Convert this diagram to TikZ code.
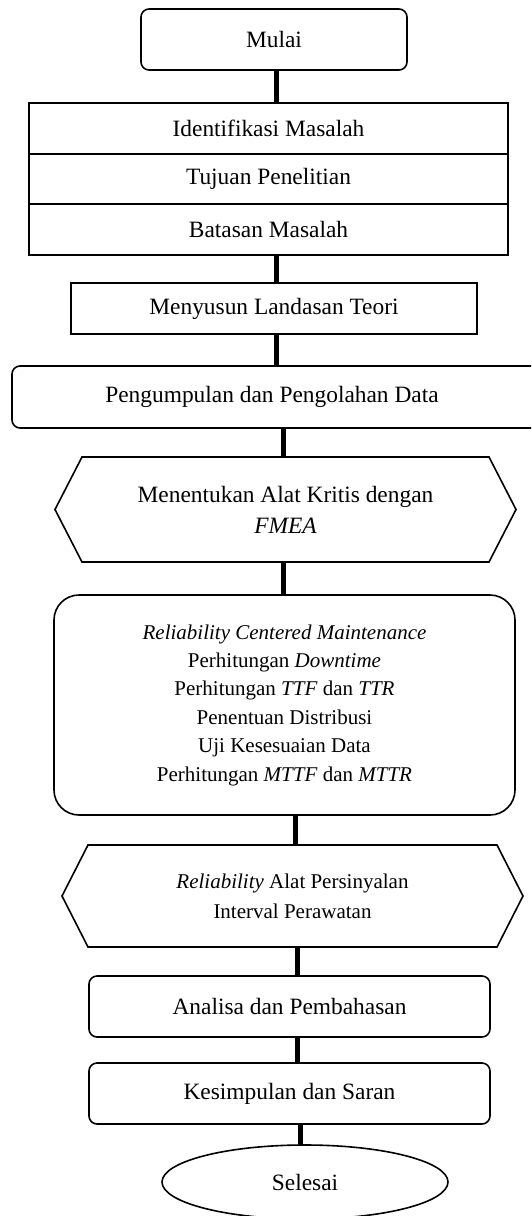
\documentclass[tikz,border=0pt]{standalone}
\usepackage{fontspec}
\setmainfont{Liberation Serif}
\usetikzlibrary{shapes.geometric,calc}
\begin{document}
\begin{tikzpicture}[x=1pt,y=-1pt,
  every node/.style={font=\fontsize{23.4}{28.4}\selectfont, inner sep=0pt, outer sep=0pt, align=center},
  smalltext/.style={font=\fontsize{21}{#1}\selectfont},
  border/.style={line width=1.6pt},
  plainbox/.style={border, draw, minimum width=#1},
  roundbox/.style={border, draw, rounded corners=8pt, minimum width=#1},
  hexbox/.style={minimum width=#1},
  link/.style={line width=5pt}
]
\clip (0,0) rectangle (531,1216);
\fill[white] (0,0) rectangle (531,1216);

% start
\node[roundbox=266, minimum height=61] (mulai) at (274,39.5) {Mulai};

% problem statement block
\node[plainbox=479, minimum height=51] (idf) at (268.5,128.5) {Identifikasi Masalah};
\node[plainbox=479, minimum height=50] (tujuan) at (268.5,179) {Tujuan Penelitian};
\node[plainbox=479, minimum height=51] (batasan) at (268.5,229.5) {Batasan Masalah};

\node[plainbox=406, minimum height=51] (teori) at (274,308.5) {Menyusun Landasan Teori};
\node[roundbox=534, minimum height=62] (data) at (279,397) {Pengumpulan dan Pengolahan Data\hspace*{14pt}};

% critical equipment (hexagon)
\node[hexbox=461, minimum height=105, font=\fontsize{23.4}{31}\selectfont] (alat) at (285.5,509.5)
  {Menentukan Alat Kritis dengan\\\textit{FMEA}};
\draw[border] ($(alat.north west)+(27,0)$) -- ($(alat.north east)+(-27,0)$) -- (alat.east)
  -- ($(alat.south east)+(-27,0)$) -- ($(alat.south west)+(27,0)$) -- (alat.west) -- cycle;

% RCM steps
\node[border, draw, rounded corners=25pt, minimum width=461, minimum height=220, smalltext=28.4] (rcm) at (284.5,705)
  {\textit{Reliability Centered Maintenance}\\
   Perhitungan \textit{Downtime}\\
   Perhitungan \textit{TTF} dan \textit{TTR}\\
   Penentuan Distribusi\\
   Uji Kesesuaian Data\\
   Perhitungan \textit{MTTF} dan \textit{MTTR}};

% results (hexagon)
\node[hexbox=461, minimum height=102, smalltext=30] (hasil) at (292.5,896)
  {\textit{Reliability} Alat Persinyalan\\Interval Perawatan};
\draw[border] ($(hasil.north west)+(26,0)$) -- ($(hasil.north east)+(-26,0)$) -- (hasil.east)
  -- ($(hasil.south east)+(-26,0)$) -- ($(hasil.south west)+(26,0)$) -- (hasil.west) -- cycle;

\node[roundbox=401, minimum height=61] (analisa) at (289.5,1006.5) {Analisa dan Pembahasan};
\node[roundbox=401, minimum height=61] (simpul) at (289.5,1093.5) {Kesimpulan dan Saran};

% end
\node[ellipse, border, draw, minimum width=286, minimum height=74] (selesai) at (305,1182) {Selesai};

% connectors
\draw[link] ([xshift=2pt]mulai.south) -- ([xshift=2pt]mulai.south |- idf.north);
\draw[link] ([xshift=2pt]teori.north |- batasan.south) -- ([xshift=2pt]teori.north);
\draw[link] ([xshift=2pt]teori.south) -- ([xshift=2pt]teori.south |- data.north);
\draw[link] ([xshift=-2.5pt]alat.north |- data.south) -- ([xshift=-2.5pt]alat.north);
\draw[link] ([xshift=-2.5pt]alat.south) -- ([xshift=-2.5pt]alat.south |- rcm.north);
\draw[link] ([xshift=2.5pt]hasil.north |- rcm.south) -- ([xshift=2.5pt]hasil.north);
\draw[link] ([xshift=7.5pt]analisa.north |- hasil.south) -- ([xshift=7.5pt]analisa.north);
\draw[link] ([xshift=7.5pt]analisa.south) -- ([xshift=7.5pt]simpul.north);
\draw[link] ([xshift=-5pt]selesai.north |- simpul.south) -- ([xshift=-5pt]selesai.north);
\end{tikzpicture}
\end{document}
